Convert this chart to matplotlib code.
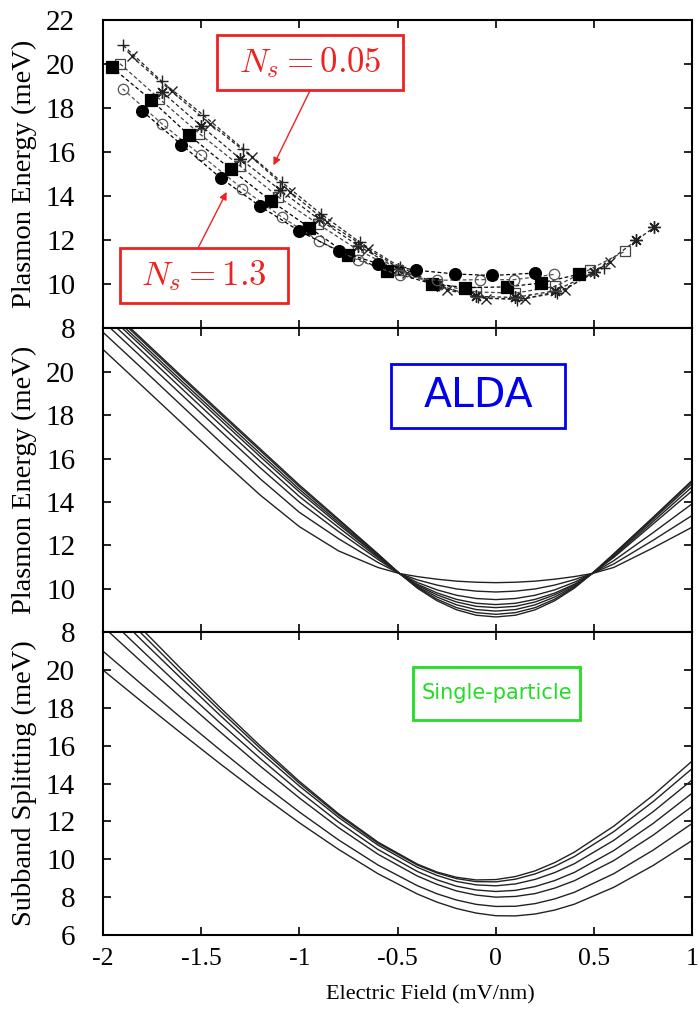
import matplotlib
matplotlib.use('Agg')
import matplotlib.pyplot as plt
from matplotlib.patches import Rectangle

plt.rcParams['font.family'] = 'Liberation Serif'
plt.rcParams['mathtext.fontset'] = 'cm'

# ---------------- top panel: measured plasmon energies ----------------
fc_x = [-1.80, -1.60, -1.40, -1.20, -1.00, -0.80, -0.60, -0.405, -0.21, -0.017, 0.20]
fc_y = [17.88, 16.35, 14.83, 13.55, 12.42, 11.51, 10.94, 10.64, 10.47, 10.40, 10.51]
oc_x = [-1.90, -1.70, -1.50, -1.29, -1.09, -0.90, -0.70, -0.49, -0.30, -0.08, 0.094, 0.297]
oc_y = [18.89, 17.30, 15.86, 14.35, 13.06, 11.97, 11.09, 10.41, 10.18, 10.21, 10.21, 10.45]
fs_x = [-1.956, -1.757, -1.560, -1.349, -1.146, -0.949, -0.755, -0.552, -0.326, -0.156, 0.057, 0.230, 0.421]
fs_y = [19.88, 18.40, 16.77, 15.23, 13.80, 12.58, 11.35, 10.60, 10.03, 9.85, 9.88, 10.06, 10.45]
os_x = [-1.913, -1.713, -1.509, -1.302, -1.107, -0.903, -0.70, -0.50, -0.30, -0.10, 0.10, 0.30, 0.477, 0.659]
os_y = [20.03, 18.44, 16.85, 15.38, 13.97, 12.73, 11.55, 10.65, 10.00, 9.65, 9.60, 9.90, 10.67, 11.51]
st_x = [-1.70, -1.50, -1.30, -1.10, -0.90, -0.70, -0.50, -0.30, -0.10, 0.10, 0.30, 0.50, 0.715, 0.807]
st_y = [18.75, 17.20, 15.70, 14.30, 12.95, 11.75, 10.70, 9.95, 9.45, 9.40, 9.70, 10.55, 12.00, 12.60]
xx_x = [-1.854, -1.650, -1.455, -1.243, -1.047, -0.860, -0.65, -0.45, -0.25, -0.05, 0.15, 0.35, 0.58]
xx_y = [20.36, 18.77, 17.30, 15.79, 14.20, 12.83, 11.60, 10.50, 9.75, 9.35, 9.35, 9.75, 11.00]
pl_x = [-1.896, -1.701, -1.49, -1.288, -1.090, -0.89, -0.69, -0.49, -0.29, -0.09, 0.11, 0.31, 0.55]
pl_y = [20.86, 19.23, 17.70, 16.17, 14.65, 13.20, 11.90, 10.80, 9.95, 9.40, 9.30, 9.60, 10.75]

# ---------------- middle panel: ALDA plasmon energies ----------------
alda_x = [-2.0, -1.8, -1.6, -1.4, -1.2, -1.0, -0.8, -0.6, -0.49, -0.4, -0.3, -0.2, -0.1, 0.0,
          0.1, 0.2, 0.3, 0.4, 0.49, 0.6, 0.8, 1.0]
alda_1 = [23.20, 21.50, 19.80, 18.12, 16.45, 14.78, 13.20, 11.61, 10.70, 10.03, 9.45, 9.03, 8.78, 8.70,
          8.78, 9.03, 9.45, 10.03, 10.70, 11.61, 13.29, 15.00]
alda_2 = [23.12, 21.42, 19.72, 18.04, 16.37, 14.70, 13.14, 11.58, 10.70, 10.07, 9.52, 9.13, 8.90, 8.82,
          8.90, 9.13, 9.52, 10.07, 10.70, 11.58, 13.26, 14.95]
alda_3 = [22.98, 21.28, 19.58, 17.90, 16.23, 14.58, 13.05, 11.53, 10.70, 10.11, 9.62, 9.26, 9.04, 8.97,
          9.04, 9.26, 9.62, 10.11, 10.70, 11.54, 13.19, 14.85]
alda_4 = [22.84, 21.15, 19.45, 17.76, 16.09, 14.46, 12.96, 11.49, 10.70, 10.16, 9.72, 9.39, 9.19, 9.13,
          9.19, 9.39, 9.72, 10.16, 10.70, 11.49, 13.09, 14.70]
alda_5 = [22.62, 20.93, 19.23, 17.54, 15.87, 14.25, 12.82, 11.43, 10.70, 10.21, 9.81, 9.51, 9.33, 9.27,
          9.33, 9.51, 9.80, 10.21, 10.70, 11.44, 12.98, 14.52]
alda_6 = [22.33, 20.64, 18.94, 17.25, 15.58, 13.99, 12.63, 11.35, 10.70, 10.29, 9.95, 9.70, 9.55, 9.50,
          9.55, 9.70, 9.95, 10.30, 10.70, 11.29, 12.58, 13.92]
alda_7 = [21.82, 20.14, 18.44, 16.74, 15.07, 13.52, 12.30, 11.21, 10.70, 10.41, 10.17, 9.99, 9.89, 9.85,
          9.89, 9.99, 10.17, 10.42, 10.70, 11.14, 12.23, 13.38]
alda_8 = [21.03, 19.34, 17.65, 15.96, 14.32, 12.86, 11.74, 10.98, 10.70, 10.56, 10.44, 10.35, 10.30, 10.28,
          10.30, 10.35, 10.44, 10.56, 10.70, 10.98, 11.88, 12.84]

# ---------------- bottom panel: single-particle subband splitting ----------------
sp_x = [-2.0, -1.8, -1.6, -1.4, -1.2, -1.0, -0.8, -0.6, -0.4, -0.3, -0.2, -0.1, 0.0, 0.1, 0.2, 0.3,
        0.4, 0.6, 0.8, 1.0]
sp_1 = [20.00, 18.31, 16.65, 15.02, 13.44, 11.93, 10.52, 9.24, 8.17, 7.74, 7.40, 7.16, 7.02, 7.01, 7.11,
        7.32, 7.63, 8.52, 9.67, 11.00]
sp_2 = [21.00, 19.22, 17.46, 15.75, 14.08, 12.50, 11.02, 9.70, 8.61, 8.18, 7.85, 7.62, 7.51, 7.52, 7.66,
        7.91, 8.26, 9.24, 10.48, 11.90]
sp_3 = [22.30, 20.40, 18.52, 16.70, 14.93, 13.24, 11.67, 10.27, 9.12, 8.68, 8.33, 8.11, 8.00, 8.04, 8.19,
        8.48, 8.87, 9.93, 11.27, 12.80]
sp_4 = [23.00, 21.02, 19.07, 17.17, 15.33, 13.58, 11.96, 10.52, 9.36, 8.92, 8.58, 8.38, 8.30, 8.36, 8.56,
        8.88, 9.31, 10.46, 11.89, 13.50]
sp_5 = [23.60, 21.55, 19.54, 17.57, 15.67, 13.87, 12.21, 10.75, 9.58, 9.15, 8.83, 8.65, 8.60, 8.70, 8.94,
        9.30, 9.77, 11.00, 12.51, 14.20]
sp_6 = [24.00, 21.89, 19.82, 17.81, 15.87, 14.02, 12.33, 10.85, 9.70, 9.28, 8.98, 8.82, 8.81, 8.95, 9.23,
        9.63, 10.15, 11.46, 13.04, 14.80]
sp_7 = [24.30, 22.15, 20.04, 17.98, 16.00, 14.12, 12.40, 10.91, 9.75, 9.33, 9.05, 8.91, 8.93, 9.09, 9.39,
        9.83, 10.38, 11.75, 13.38, 15.20]

x_ticks = [-2, -1.5, -1, -0.5, 0, 0.5, 1]
x_tick_labels = ['-2', '-1.5', '-1', '-0.5', '0', '0.5', '1']

fig = plt.figure(figsize=(7, 10.19), dpi=100)
gs = fig.add_gridspec(3, 1, height_ratios=[308, 304, 303], hspace=0,
                      left=0.147, right=0.989, top=0.980, bottom=0.0824)
ax1 = fig.add_subplot(gs[0])
ax2 = fig.add_subplot(gs[1], sharex=ax1)
ax3 = fig.add_subplot(gs[2], sharex=ax1)

for ax in (ax1, ax2, ax3):
    ax.tick_params(direction='in', top=True, right=True, length=5.5, width=1.2)
    ax.tick_params(axis='y', labelsize=21, pad=20)
    ax.tick_params(axis='x', labelsize=18.5, pad=9)
    for s_ in ax.spines.values():
        s_.set_linewidth(1.5)
    ax.set_xlim(-2, 1)
    ax.set_xticks(x_ticks)
ax3.set_xticklabels(x_tick_labels)
ax1.tick_params(labelbottom=False)
ax2.tick_params(labelbottom=False)

ax1.set_ylim(8, 22)
ax1.set_yticks(range(8, 23, 2))
ax2.set_ylim(8, 22)
ax2.set_yticks(range(8, 21, 2))
ax3.set_ylim(6, 22)
ax3.set_yticks(range(6, 21, 2))

for ax, t_ in ((ax1, 'Plasmon Energy (meV)'), (ax2, 'Plasmon Energy (meV)'),
               (ax3, 'Subband Splitting (meV)')):
    ax.set_ylabel(t_, fontsize=20.5)
    ax.yaxis.set_label_coords(-0.112, 0.5)
ax3.set_xlabel('Electric Field (mV/nm)', fontsize=16)
ax3.xaxis.set_label_coords(0.555, -0.165)

series = [
    (pl_x, pl_y, dict(marker='+', ms=8, mew=1.0, color='#222222', mfc='none')),
    (xx_x, xx_y, dict(marker='x', ms=7, mew=1.0, color='#222222', mfc='none')),
    (st_x, st_y, dict(marker=(8, 2, 0), ms=9, mew=1.0, color='#222222', mfc='none')),
    (os_x, os_y, dict(marker='s', ms=7, mew=0.9, color='#444444', mfc='none')),
    (fs_x, fs_y, dict(marker='s', ms=8, mew=0.9, color='black', mfc='black')),
    (oc_x, oc_y, dict(marker='o', ms=7.5, mew=0.9, color='#555555', mfc='none')),
    (fc_x, fc_y, dict(marker='o', ms=8.5, mew=0.9, color='black', mfc='black')),
]
for x, y, kw in series:
    ax1.plot(x, y, ls=(0, (3, 2)), lw=0.9, zorder=3, **kw)

red = '#ee2222'
blue = '#0000ee'
green = '#22dd22'


def box(ax, x0, x1, y0, y1, col):
    ax.add_patch(Rectangle((x0, y0), x1 - x0, y1 - y0, fc='white', ec=col, lw=2, zorder=6))


box(ax1, -1.419, -0.472, 18.82, 21.32, red)
ax1.text(-0.946, 20.07, r'$N_s = 0.05$', fontsize=25, color=red, ha='center', va='center', zorder=7)
ax1.annotate('', xy=(-1.132, 15.41), xytext=(-0.945, 18.82),
             arrowprops=dict(arrowstyle='-|>', color=red, lw=1, mutation_scale=11,
                             shrinkA=0, shrinkB=0), zorder=6)
box(ax1, -1.913, -1.058, 9.14, 11.64, red)
ax1.text(-1.486, 10.39, r'$N_s = 1.3$', fontsize=25, color=red, ha='center', va='center', zorder=7)
ax1.annotate('', xy=(-1.370, 14.2), xytext=(-1.516, 11.64),
             arrowprops=dict(arrowstyle='-|>', color=red, lw=1, mutation_scale=11,
                             shrinkA=0, shrinkB=0), zorder=6)

for y in (alda_1, alda_2, alda_3, alda_4, alda_5, alda_6, alda_7, alda_8):
    ax2.plot(alda_x, y, color='#222222', lw=1.0)
box(ax2, -0.533, 0.354, 17.39, 20.34, blue)
ax2.text(-0.090, 18.87, 'ALDA', family='DejaVu Sans', fontsize=29.5, color=blue,
         ha='center', va='center', zorder=7)

for y in (sp_1, sp_2, sp_3, sp_4, sp_5, sp_6, sp_7):
    ax3.plot(sp_x, y, color='#222222', lw=1.0)
box(ax3, -0.421, 0.430, 17.35, 20.15, green)
ax3.text(0.007, 18.77, 'Single-particle', family='DejaVu Sans', fontsize=15, color=green,
         ha='center', va='center', zorder=7)

fig.savefig('out.png', dpi=100)
